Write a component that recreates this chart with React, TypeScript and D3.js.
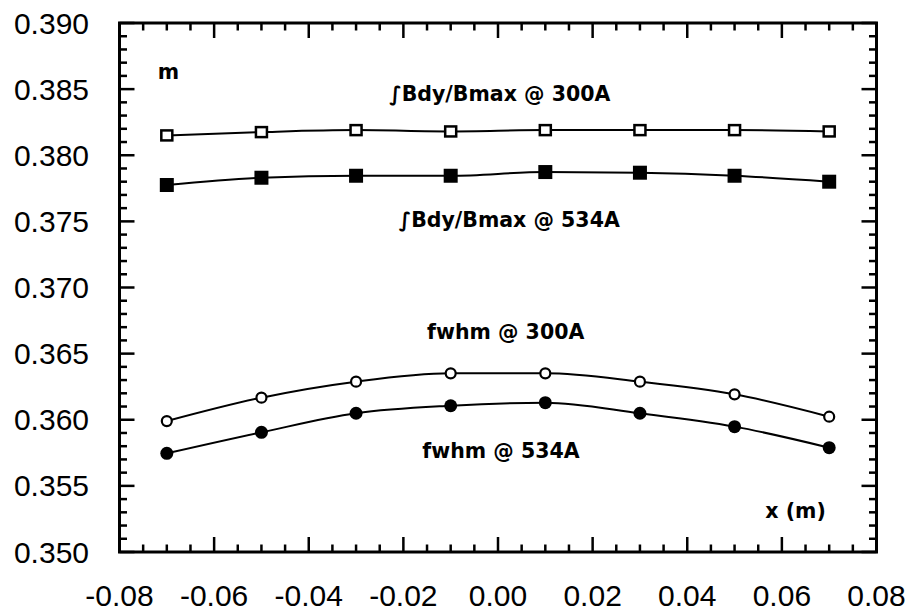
import React from "react";
import * as d3 from "d3";

const xValues = [-0.07, -0.05, -0.03, -0.01, 0.01, 0.03, 0.05, 0.07];
const intB300 = [0.3815, 0.38175, 0.3819, 0.3818, 0.3819, 0.3819, 0.3819, 0.3818];
const intB534 = [0.37775, 0.3783, 0.37845, 0.37845, 0.37873, 0.37868, 0.37845, 0.378];
const fwhm300 = [0.3599, 0.36167, 0.36288, 0.36351, 0.36351, 0.36288, 0.36192, 0.36023];
const fwhm534 = [0.35746, 0.35905, 0.36049, 0.36106, 0.36129, 0.36049, 0.35948, 0.35789];

const xTicks = [-0.08, -0.06, -0.04, -0.02, 0.0, 0.02, 0.04, 0.06, 0.08];
const yTicks = [0.35, 0.355, 0.36, 0.365, 0.37, 0.375, 0.38, 0.385, 0.39];

const annotations = [
  { text: "m", x: -0.0719, y: 0.3858, anchor: "start" },
  { text: "\u222BBdy/Bmax @ 300A", x: -0.023, y: 0.3841, anchor: "start" },
  { text: "\u222BBdy/Bmax @ 534A", x: -0.021, y: 0.3746, anchor: "start" },
  { text: "fwhm @ 300A", x: -0.015, y: 0.3661, anchor: "start" },
  { text: "fwhm @ 534A", x: -0.016, y: 0.3571, anchor: "start" },
  { text: "x (m)", x: 0.0565, y: 0.3526, anchor: "start" },
];

const W = 911;
const H = 612;
const L = 119.5, R = 876.5, T = 23, B = 552;

const fmtX = (v: number) => d3.format(".2f")(v).replace("\u2212", "-");
const fmtY = (v: number) => d3.format(".3f")(v);

export default function App() {
  const x = d3.scaleLinear().domain([-0.08, 0.08]).range([L, R]);
  const y = d3.scaleLinear().domain([0.35, 0.39]).range([B, T]);

  const line = (vals: number[]) =>
    d3
      .line<number>()
      .x((_, i) => x(xValues[i]))
      .y((v) => y(v))
      .curve(d3.curveMonotoneX)(vals) || "";

  const xMinor = d3.range(0, 33).map((i) => -0.08 + i * 0.005);
  const yMinor = d3.range(0, 41).map((i) => 0.35 + i * 0.001);
  const isMajorX = (v: number) => Math.abs(Math.round(v / 0.02) * 0.02 - v) < 1e-9;
  const isMajorY = (v: number) => Math.abs(Math.round(v / 0.005) * 0.005 - v) < 1e-9;

  const major = 15, minor = 7.5;

  return (
    <svg
      width={W}
      height={H}
      style={{ position: "absolute", left: 0, top: 0, background: "#fff" }}
      fontFamily="'Liberation Sans', Arial, sans-serif"
    >
      <rect x={0} y={0} width={W} height={H} fill="#fff" />
      <g stroke="#000" strokeWidth={2.5}>
        {xMinor.map((v, i) => {
          const len = isMajorX(v) ? major : minor;
          return (
            <g key={"xt" + i}>
              <line x1={x(v)} x2={x(v)} y1={B} y2={B - len} />
              <line x1={x(v)} x2={x(v)} y1={T} y2={T + len} />
            </g>
          );
        })}
        {yMinor.map((v, i) => {
          const len = isMajorY(v) ? major : minor;
          return (
            <g key={"yt" + i}>
              <line x1={L} x2={L + len} y1={y(v)} y2={y(v)} />
              <line x1={R} x2={R - len} y1={y(v)} y2={y(v)} />
            </g>
          );
        })}
      </g>
      <rect x={L} y={T} width={R - L} height={B - T} fill="none" stroke="#000" strokeWidth={3} />
      <g fontSize={30} fill="#000">
        {xTicks.map((v) => (
          <text key={"xl" + v} x={x(v)} y={606} textAnchor="middle">
            {fmtX(v)}
          </text>
        ))}
        {yTicks.map((v) => (
          <text key={"yl" + v} x={89} y={y(v) + 10.5} textAnchor="end">
            {fmtY(v)}
          </text>
        ))}
      </g>
      <g fill="none" stroke="#000" strokeWidth={2}>
        <path d={line(intB300)} />
        <path d={line(intB534)} />
        <path d={line(fwhm300)} />
        <path d={line(fwhm534)} />
      </g>
      {intB300.map((v, i) => (
        <rect key={"s3" + i} x={x(xValues[i]) - 5.5} y={y(v) - 5} width={11} height={10} fill="#fff" stroke="#000" strokeWidth={2.5} />
      ))}
      {intB534.map((v, i) => (
        <rect key={"s5" + i} x={x(xValues[i]) - 7} y={y(v) - 7} width={14} height={14} fill="#000" />
      ))}
      {fwhm300.map((v, i) => (
        <circle key={"c3" + i} cx={x(xValues[i])} cy={y(v)} r={5} fill="#fff" stroke="#000" strokeWidth={2.2} />
      ))}
      {fwhm534.map((v, i) => (
        <circle key={"c5" + i} cx={x(xValues[i])} cy={y(v)} r={6.5} fill="#000" />
      ))}
      <g fontFamily="'DejaVu Sans', Verdana, sans-serif" fontWeight="bold" fontSize={20.5} fill="#000">
        {annotations.map((a) => (
          <text key={a.text} x={x(a.x)} y={y(a.y)} textAnchor={a.anchor as any}>
            {a.text}
          </text>
        ))}
      </g>
    </svg>
  );
}
